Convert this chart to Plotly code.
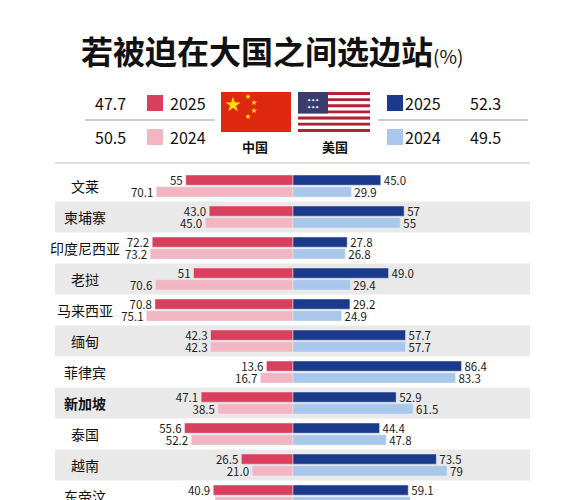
import plotly.graph_objects as go

countries = ["文莱", "柬埔寨", "印度尼西亚", "老挝", "马来西亚", "缅甸", "菲律宾", "新加坡", "泰国", "越南", "东帝汶"]
china_2025 = [55, 43.0, 72.2, 51, 70.8, 42.3, 13.6, 47.1, 55.6, 26.5, 40.9]
china_2024 = [70.1, 45.0, 73.2, 70.6, 75.1, 42.3, 16.7, 38.5, 52.2, 21.0, 40.0]
us_2025 = [45.0, 57, 27.8, 49.0, 29.2, 57.7, 86.4, 52.9, 44.4, 73.5, 59.1]
us_2024 = [29.9, 55, 26.8, 29.4, 24.9, 57.7, 83.3, 61.5, 47.8, 79, 60.0]
china_text_2025 = ["55", "43.0", "72.2", "51", "70.8", "42.3", "13.6", "47.1", "55.6", "26.5", "40.9"]
china_text_2024 = ["70.1", "45.0", "73.2", "70.6", "75.1", "42.3", "16.7", "38.5", "52.2", "21.0", ""]
us_text_2025 = ["45.0", "57", "27.8", "49.0", "29.2", "57.7", "86.4", "52.9", "44.4", "73.5", "59.1"]
us_text_2024 = ["29.9", "55", "26.8", "29.4", "24.9", "57.7", "83.3", "61.5", "47.8", "79", ""]
avg = {"cn2025": "47.7", "cn2024": "50.5", "us2025": "52.3", "us2024": "49.5"}

W, H = 564, 500
OFF = 8  # page body margin
CX, SCALE = 293 - OFF, 1.95
ROW0, PITCH = 186 - OFF, 31
C_CN25, C_CN24 = "#d8405e", "#f2b6c3"
C_US25, C_US24 = "#1b3a8c", "#a8c7ea"
FONT = "Noto Sans CJK SC"

def px(x):
    return (x - OFF) / W

def py(y):
    return 1 - (y - OFF) / H

idx = list(range(len(countries)))
fig = go.Figure()
tf = dict(size=11.5, color="#222", family=FONT)
fig.add_bar(y=[i - 0.19 for i in idx], x=[-v for v in china_2025], orientation="h", width=0.33,
            marker_color=C_CN25, text=china_text_2025, textposition="outside", textfont=tf, cliponaxis=False)
fig.add_bar(y=[i + 0.19 for i in idx], x=[-v for v in china_2024], orientation="h", width=0.33,
            marker_color=C_CN24, text=china_text_2024, textposition="outside", textfont=tf, cliponaxis=False)
fig.add_bar(y=[i - 0.19 for i in idx], x=us_2025, orientation="h", width=0.33,
            marker_color=C_US25, text=us_text_2025, textposition="outside", textfont=tf, cliponaxis=False)
fig.add_bar(y=[i + 0.19 for i in idx], x=us_2024, orientation="h", width=0.33,
            marker_color=C_US24, text=us_text_2024, textposition="outside", textfont=tf, cliponaxis=False)

shapes = []
for i in idx:
    if i % 2 == 1:
        shapes.append(dict(type="rect", xref="paper", yref="y", x0=px(55), x1=px(530),
                           y0=i - 0.5, y1=i + 0.5, fillcolor="#e9e9e9", line_width=0, layer="below"))

annotations = []
for i, c in enumerate(countries):
    annotations.append(dict(x=(85 - OFF - CX) / SCALE, y=i, xref="x", yref="y",
                            text=f"<b>{c}</b>" if c == "新加坡" else c,
                            xanchor="center", yanchor="middle",
                            showarrow=False, font=dict(size=14, color="#111", family=FONT)))

def txt(x, y, s, size=16, bold=False, color="#111"):
    annotations.append(dict(x=px(x), y=py(y), xref="paper", yref="paper", showarrow=False,
                            xanchor="center", yanchor="middle",
                            text=f"<b>{s}</b>" if bold else s, font=dict(size=size, color=color, family=FONT)))

txt(272, 50, "<b>若被迫在大国之间选边站</b><span style='font-size:19px'>(%)</span>", 32)
txt(110, 103, avg["cn2025"]); txt(110, 137, avg["cn2024"])
txt(188, 103, "2025"); txt(188, 137, "2024")
txt(423, 103, "2025"); txt(423, 137, "2024")
txt(485, 103, avg["us2025"]); txt(485, 137, avg["us2024"])
txt(255, 146, "中国", 13, True); txt(335, 146, "美国", 13, True)

def prect(x0, y0, x1, y1, color):
    shapes.append(dict(type="rect", xref="paper", yref="paper", x0=px(x0), x1=px(x1),
                       y0=py(y1), y1=py(y0), fillcolor=color, line_width=0))

prect(147, 95, 163, 111, C_CN25); prect(147, 129, 163, 145, C_CN24)
prect(387, 95, 403, 111, C_US25); prect(387, 129, 403, 145, C_US24)
for x0, x1 in [(85, 215), (378, 528)]:
    shapes.append(dict(type="line", xref="paper", yref="paper", x0=px(x0), x1=px(x1),
                       y0=py(120), y1=py(120), line=dict(color="#999", width=1)))
shapes.append(dict(type="line", xref="paper", yref="paper", x0=px(55), x1=px(530),
                   y0=py(163), y1=py(163), line=dict(color="#bbb", width=1)))
# China flag
prect(221, 92, 291, 132, "#de2910")
txt(233, 103, "★", 16, color="#ffde00")
for sx, sy in [(248, 96), (254, 102), (254, 110), (248, 116)]:
    txt(sx, sy, "★", 6, color="#ffde00")
# US flag
for k in range(13):
    y0 = 92 + k * 40 / 13
    prect(298, y0, 370, y0 + 40 / 13, "#b22234" if k % 2 == 0 else "#ffffff")
prect(298, 92, 328, 113.5, "#3c3b6e")
txt(313, 102.5, "✦✦✦<br>✦✦✦", 5, color="white")

fig.update_layout(
    width=W, height=H, margin=dict(l=0, r=0, t=0, b=0), barmode="overlay",
    plot_bgcolor="white", paper_bgcolor="white", showlegend=False,
    uniformtext=dict(minsize=11, mode="show"),
    xaxis=dict(range=[-CX / SCALE, (W - CX) / SCALE], visible=False, fixedrange=True),
    yaxis=dict(range=[(H - ROW0) / PITCH, -ROW0 / PITCH], visible=False, fixedrange=True),
    shapes=shapes, annotations=annotations,
)
fig.write_html("out.html")
